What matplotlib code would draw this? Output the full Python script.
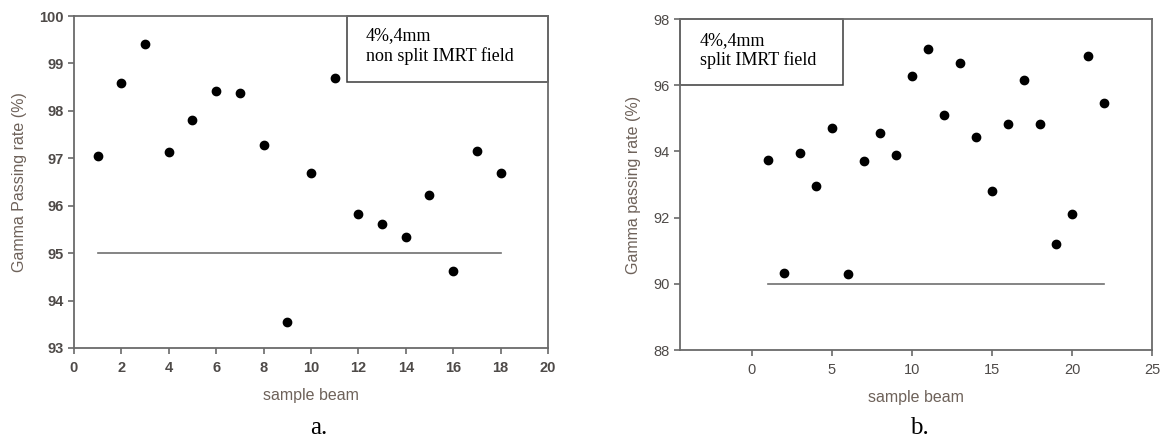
import matplotlib
matplotlib.use("Agg")
import matplotlib.pyplot as plt
from matplotlib import font_manager
from matplotlib.patches import Rectangle

# non split IMRT field (4%, 4mm)
beams_a = list(range(1, 19))
rate_a = [97.04, 98.59, 99.4, 97.13, 97.8, 98.42, 98.37, 97.28, 93.55,
          96.68, 98.69, 95.83, 95.61, 95.35, 96.22, 94.62, 97.15, 96.69]
limit_a = 95

# split IMRT field (4%, 4mm)
beams_b = list(range(1, 23))
rate_b = [93.74, 90.34, 93.94, 92.96, 94.7, 90.3, 93.7, 94.56, 93.88, 96.29,
          97.09, 95.1, 96.68, 94.44, 92.8, 94.82, 96.17, 94.82, 91.2, 92.12,
          96.88, 95.45]
limit_b = 90

installed = {f.name for f in font_manager.fontManager.ttflist}
narrow = "Liberation Sans Narrow" if "Liberation Sans Narrow" in installed else "Liberation Sans"
sans = "Liberation Sans"
serif = "Liberation Serif"

spine_c = "#6a6a6a"
tick_c = "#4e4a48"
label_c = "#6e625a"

fig = plt.figure(figsize=(11.61, 4.4), dpi=100)
ax1 = fig.add_axes([0.0637, 0.2091, 0.4083, 0.7545])
ax2 = fig.add_axes([0.5857, 0.2045, 0.4065, 0.7523])


def style(ax, weight):
    for side in ["left", "bottom", "top", "right"]:
        ax.spines[side].set_color(spine_c)
        ax.spines[side].set_linewidth(1.3)
    ax.tick_params(direction="out", length=4, width=1.2, colors=spine_c,
                   labelcolor=tick_c, labelsize=10.5)
    ax.tick_params(axis="x", pad=5.5)
    ax.tick_params(axis="y", pad=3.5)
    for lab in ax.get_xticklabels() + ax.get_yticklabels():
        lab.set_family(narrow)
        lab.set_fontweight(weight)


def labels(ax, ylabel, ylab_x):
    ax.set_xlabel("sample beam", family=sans, fontsize=11.5, color=label_c)
    ax.set_ylabel(ylabel, family=sans, fontsize=11.5, color=label_c)
    ax.xaxis.set_label_coords(0.5, -0.142)
    ax.xaxis.label.set_va("center")
    ax.yaxis.set_label_coords(ylab_x, 0.5)
    ax.yaxis.label.set_va("center")


# panel a
ax1.plot(beams_a, rate_a, "o", color="black", ms=6)
ax1.plot([beams_a[0], beams_a[-1]], [limit_a, limit_a], color="#707070", lw=1.2)
ax1.set_xlim(0, 20)
ax1.set_ylim(93, 100)
ax1.set_xticks(range(0, 21, 2))
ax1.set_yticks(range(93, 101))
style(ax1, "bold")
labels(ax1, "Gamma Passing rate (%)", -0.114)
ax1.add_patch(Rectangle((11.52, 98.61), 8.48, 1.39, fill=False, ec="#3a3a3a",
                        lw=1.1, clip_on=False))
ax1.text(12.32, 99.37, "4%,4mm\nnon split IMRT field", family=serif, fontsize=13,
         va="center", ha="left", linespacing=1.2)

# panel b
ax2.plot(beams_b, rate_b, "o", color="black", ms=6)
ax2.plot([beams_b[0], beams_b[-1]], [limit_b, limit_b], color="#707070", lw=1.2)
ax2.set_xlim(-4.5, 25)
ax2.set_ylim(88, 98)
ax2.set_xticks(range(0, 26, 5))
ax2.set_yticks(range(88, 99, 2))
style(ax2, "normal")
labels(ax2, "Gamma passing rate (%)", -0.0975)
ax2.add_patch(Rectangle((-4.5, 96.0), 10.21, 2.0, fill=False, ec="#3a3a3a",
                        lw=1.1, clip_on=False))
ax2.text(-3.25, 97.05, "4%,4mm\nsplit IMRT field", family=serif, fontsize=13,
         va="center", ha="left", linespacing=1.2)

fig.text(319 / 1161, 1 - 428 / 440, "a.", family=serif, fontsize=18, ha="center", va="center")
fig.text(919 / 1161, 1 - 428 / 440, "b.", family=serif, fontsize=18, ha="center", va="center")

fig.savefig("out.png", dpi=100)
